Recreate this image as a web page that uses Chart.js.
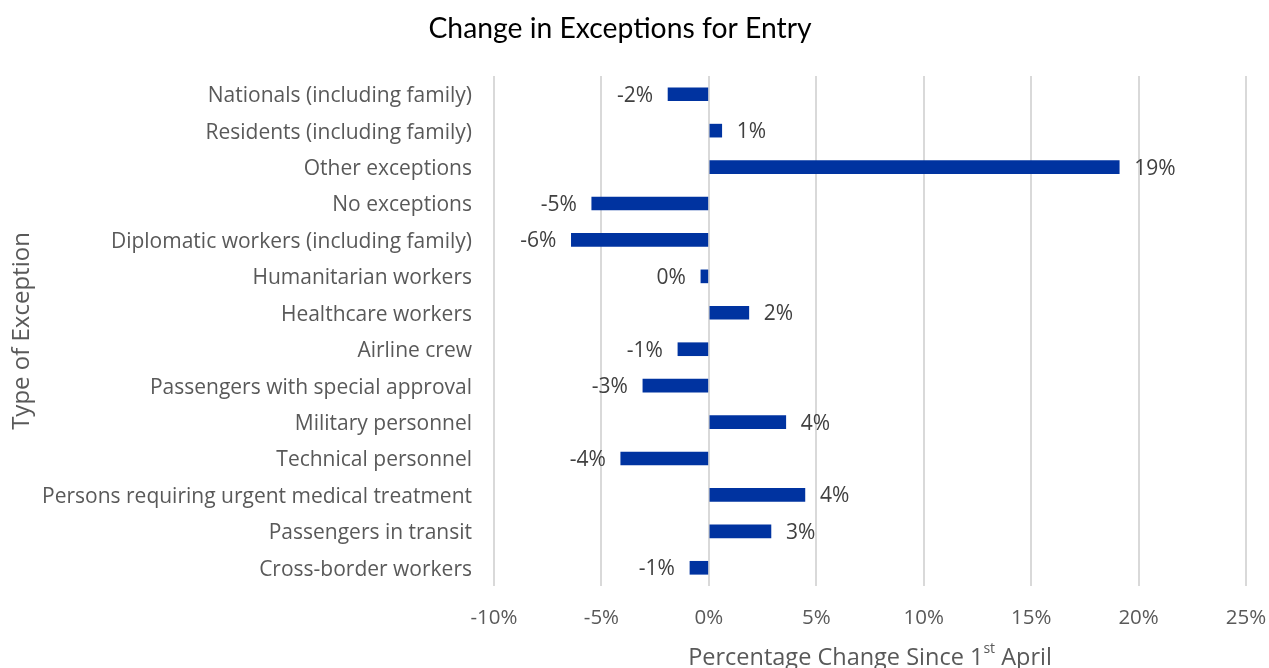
<!DOCTYPE html>
<html><head><meta charset="utf-8">
<script src="https://cdn.jsdelivr.net/npm/chart.js@4"></script>
<style>html,body{margin:0;padding:0;background:#fff;} #wrap{width:1269px;height:668px;position:relative;}</style>
</head><body><div id="wrap"><canvas id="c"></canvas></div>
<script>
const chartTitle = 'Change in Exceptions for Entry';
const yAxisTitle = 'Type of Exception';
const categories = [
  'Nationals (including family)',
  'Residents (including family)',
  'Other exceptions',
  'No exceptions',
  'Diplomatic workers (including family)',
  'Humanitarian workers',
  'Healthcare workers',
  'Airline crew',
  'Passengers with special approval',
  'Military personnel',
  'Technical personnel',
  'Persons requiring urgent medical treatment',
  'Passengers in transit',
  'Cross-border workers'
];
const values = [-1.9, 0.6, 19.1, -5.45, -6.4, -0.37, 1.86, -1.44, -3.07, 3.58, -4.1, 4.47, 2.89, -0.88];
const valueLabels = ['-2%', '1%', '19%', '-5%', '-6%', '0%', '2%', '-1%', '-3%', '4%', '-4%', '4%', '3%', '-1%'];
const xMin = -10, xMax = 25, xStep = 5;

const textPlugin = {
  id: 'texts',
  afterDatasetsDraw(chart) {
    const ctx = chart.ctx;
    const meta = chart.getDatasetMeta(0);
    ctx.save();
    ctx.font = '21px "Open Sans"';
    ctx.fillStyle = '#404040';
    ctx.textBaseline = 'middle';
    meta.data.forEach((bar, i) => {
      const v = values[i];
      if (v >= 0) { ctx.textAlign = 'left'; ctx.fillText(valueLabels[i], bar.x + 15, bar.y + 1.5); }
      else { ctx.textAlign = 'right'; ctx.fillText(valueLabels[i], bar.x - 15, bar.y + 1.5); }
    });
    ctx.restore();
  },
  afterDraw(chart) {
    const ctx = chart.ctx, ca = chart.chartArea;
    ctx.save();
    // title
    ctx.font = '28.3px Lato';
    ctx.fillStyle = '#000';
    ctx.textAlign = 'center';
    ctx.textBaseline = 'middle';
    ctx.fillText(chartTitle, 620, 29);
    // y title
    ctx.save();
    ctx.translate(22, (ca.top + ca.bottom) / 2);
    ctx.rotate(-Math.PI / 2);
    ctx.font = '24px "Open Sans"';
    ctx.fillStyle = '#595959';
    ctx.fillText(yAxisTitle, 0, 0);
    ctx.restore();
    // x title with superscript
    const p1 = 'Percentage Change Since 1', sup = 'st', p2 = ' April';
    const big = '23.5px "Open Sans"', small = '14px "Open Sans"';
    ctx.font = big; const w1 = ctx.measureText(p1).width, w3 = ctx.measureText(p2).width;
    ctx.font = small; const w2 = ctx.measureText(sup).width;
    let x = (ca.left + ca.right) / 2 - (w1 + w2 + w3) / 2;
    const y = 658;
    ctx.textAlign = 'left';
    ctx.fillStyle = '#595959';
    ctx.font = big; ctx.fillText(p1, x, y); x += w1;
    ctx.font = small; ctx.fillText(sup, x, y - 9); x += w2;
    ctx.font = big; ctx.fillText(p2, x, y);
    ctx.restore();
  }
};

new Chart(document.getElementById('c'), {
  type: 'bar',
  data: {
    labels: categories,
    datasets: [{
      data: values,
      backgroundColor: '#0033a0',
      borderWidth: 0,
      barThickness: 13
    }]
  },
  options: {
    indexAxis: 'y',
    responsive: true,
    maintainAspectRatio: false,
    animation: false,
    layout: { padding: { top: 76, right: 23, left: 0, bottom: 0 } },
    plugins: { legend: { display: false }, tooltip: { enabled: false }, title: { display: false } },
    scales: {
      x: {
        min: xMin, max: xMax,
        ticks: { stepSize: xStep, callback: v => v + '%', color: '#595959', font: { family: 'Open Sans', size: 20.5 }, padding: 20 },
        grid: { color: '#d9d9d9', lineWidth: 2, drawTicks: false },
        border: { display: false },
        afterFit(s) { s.height = 82; s.paddingLeft = 0; s.paddingRight = 0; }
      },
      y: {
        ticks: { color: '#595959', font: { family: 'Open Sans', size: 21 }, padding: 22, autoSkip: false, labelOffset: 2 },
        grid: { display: false, drawTicks: false },
        border: { display: false },
        afterFit(s) { s.width = 494; }
      }
    }
  },
  plugins: [textPlugin]
});
</script></body></html>
